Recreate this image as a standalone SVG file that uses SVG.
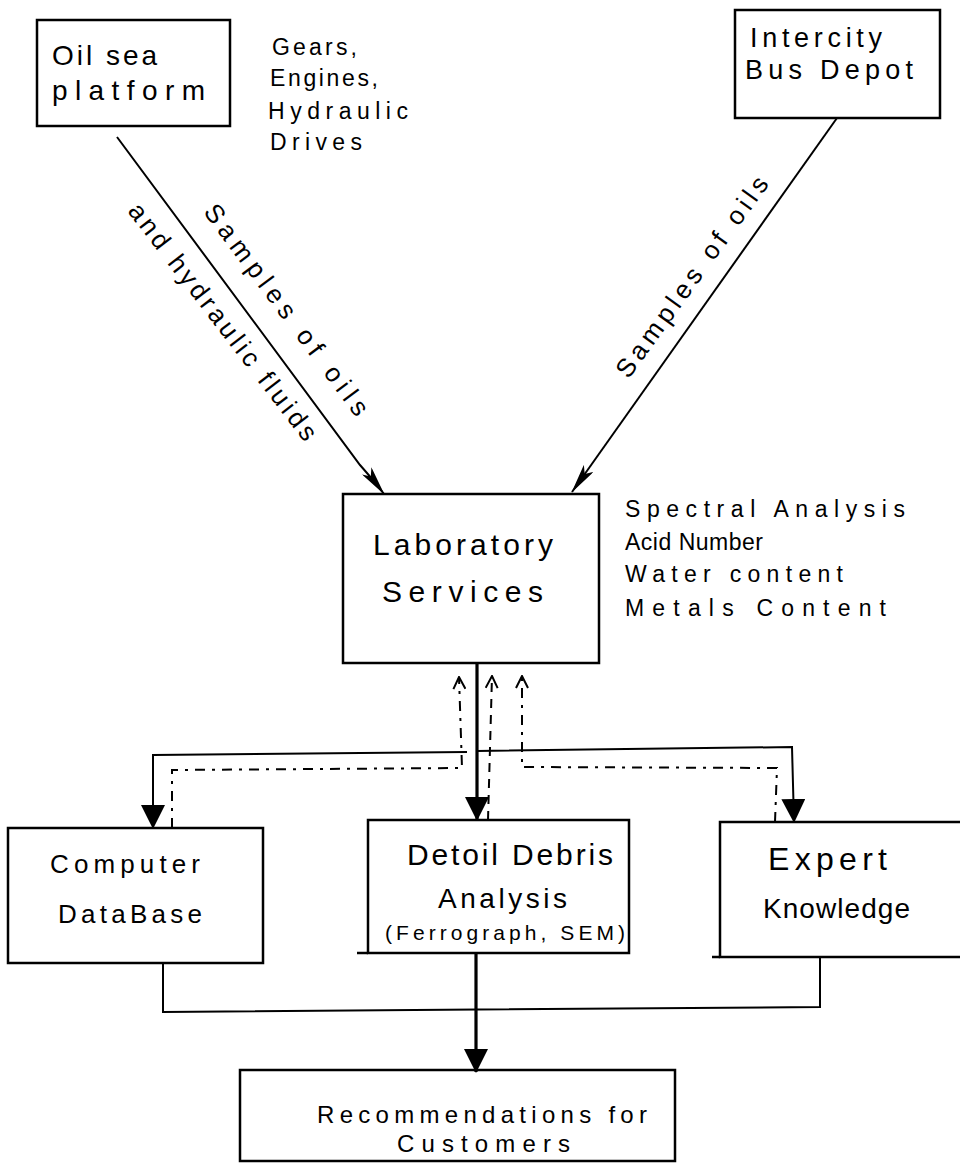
<svg xmlns="http://www.w3.org/2000/svg" width="960" height="1167" viewBox="0 0 960 1167">
<style>
.box{fill:none;stroke:#000;stroke-width:2.5}
.t{font-family:"Liberation Sans",Arial,sans-serif;fill:#000}
.ln{fill:none;stroke:#000;stroke-width:2}
.thick{fill:none;stroke:#000;stroke-width:3.2}
.dash{fill:none;stroke:#000;stroke-width:2;stroke-dasharray:9 7}
.dashdot{fill:none;stroke:#000;stroke-width:2;stroke-dasharray:10 7 3 7}
</style>
<defs>
<marker id="big" markerUnits="userSpaceOnUse" markerWidth="24" markerHeight="24" viewBox="0 0 24 24" refX="23" refY="12" orient="auto"><path d="M0,0 L24,12 L0,24 z" fill="#000"/></marker>
<marker id="narrow" markerUnits="userSpaceOnUse" markerWidth="30" markerHeight="12" viewBox="0 0 30 12" refX="29" refY="6" orient="auto"><path d="M0,0 L30,6 L0,12 L7,6 z" fill="#000"/></marker>
<marker id="open" markerUnits="userSpaceOnUse" markerWidth="14" markerHeight="14" viewBox="0 0 14 14" refX="13" refY="7" orient="auto"><path d="M1,1 L13,7 L1,13" fill="none" stroke="#000" stroke-width="2"/></marker>
</defs>

<g id="connectors">
  <path class="ln" d="M117,137 L360,465 Q375,482 384,494" marker-end="url(#narrow)"/>
  <path class="ln" d="M837,118 L572,492" marker-end="url(#narrow)"/>
  <path class="thick" d="M477,663 L477,820" marker-end="url(#big)"/>
  <path class="ln" d="M467,752 L153,755 L153,828" marker-end="url(#big)"/>
  <path class="ln" d="M477,751 L792,747 L794,822" marker-end="url(#big)"/>
  <path class="dashdot" d="M172,828 L172,770 L462,768 L459,677" marker-end="url(#open)"/>
  <path class="dash" d="M488,820 L492,676" marker-end="url(#open)"/>
  <path class="dashdot" d="M775,822 L777,768 L522,767 L522,676" marker-end="url(#open)"/>
  <path class="ln" d="M163,963 L163,1012 L820,1007 L820,957"/>
  <path class="thick" d="M476,953 L476,1072" marker-end="url(#big)"/>
  <text class="t" font-size="26" text-anchor="middle" textLength="257" lengthAdjust="spacing" transform="translate(279.5,315) rotate(53.3)">Samples of oils</text>
  <text class="t" font-size="26" text-anchor="middle" textLength="292" lengthAdjust="spacing" transform="translate(216,327) rotate(52.5)">and hydraulic fluids</text>
  <text class="t" font-size="26" text-anchor="middle" textLength="241" lengthAdjust="spacing" transform="translate(699,282) rotate(-54.2)">Samples of oils</text>
</g>

<g id="oil-platform">
  <rect class="box" x="37" y="20" width="193" height="106"/>
  <text class="t" font-size="28" x="52" y="65" textLength="105" lengthAdjust="spacing">Oil sea</text>
  <text class="t" font-size="28" x="52" y="100" textLength="153" lengthAdjust="spacing">platform</text>
</g>

<g id="platform-notes">
  <text class="t" font-size="23" x="272" y="55" textLength="85" lengthAdjust="spacing">Gears,</text>
  <text class="t" font-size="23" x="270" y="86" textLength="108" lengthAdjust="spacing">Engines,</text>
  <text class="t" font-size="23" x="268" y="119" textLength="140" lengthAdjust="spacing">Hydraulic</text>
  <text class="t" font-size="23" x="270" y="150" textLength="92" lengthAdjust="spacing">Drives</text>
</g>

<g id="bus-depot">
  <rect class="box" x="735" y="10" width="205" height="108"/>
  <text class="t" font-size="27" x="750" y="47" textLength="132" lengthAdjust="spacing">Intercity</text>
  <text class="t" font-size="27" x="745" y="79" textLength="168" lengthAdjust="spacing">Bus Depot</text>
</g>

<g id="laboratory">
  <rect class="box" x="343" y="494" width="256" height="169"/>
  <text class="t" font-size="30" x="373" y="555" textLength="180" lengthAdjust="spacing">Laboratory</text>
  <text class="t" font-size="30" x="382" y="602" textLength="161" lengthAdjust="spacing">Services</text>
</g>

<g id="lab-notes">
  <text class="t" font-size="23" x="625" y="517" textLength="280" lengthAdjust="spacing">Spectral Analysis</text>
  <text class="t" font-size="23" x="625" y="550" textLength="138" lengthAdjust="spacing">Acid Number</text>
  <text class="t" font-size="23" x="625" y="582" textLength="218" lengthAdjust="spacing">Water content</text>
  <text class="t" font-size="23" x="625" y="616" textLength="261" lengthAdjust="spacing">Metals Content</text>
</g>

<g id="computer-database">
  <rect class="box" x="8" y="828" width="255" height="135"/>
  <text class="t" font-size="26" x="50" y="873" textLength="150" lengthAdjust="spacing">Computer</text>
  <text class="t" font-size="26" x="58" y="923" textLength="144" lengthAdjust="spacing">DataBase</text>
</g>

<g id="debris-analysis">
  <rect class="box" x="368" y="820" width="261" height="133"/>
  <line class="box" x1="357" y1="953" x2="368" y2="953"/>
  <text class="t" font-size="30" x="407" y="865" textLength="206" lengthAdjust="spacing">Detoil Debris</text>
  <text class="t" font-size="28" x="438" y="908" textLength="129" lengthAdjust="spacing">Analysis</text>
  <text class="t" font-size="21" x="385" y="940" textLength="240" lengthAdjust="spacing">(Ferrograph, SEM)</text>
</g>

<g id="expert-knowledge">
  <rect class="box" x="720" y="822" width="245" height="135"/>
  <line class="box" x1="712" y1="957" x2="720" y2="957"/>
  <text class="t" font-size="32" x="768" y="870" textLength="119" lengthAdjust="spacing">Expert</text>
  <text class="t" font-size="28" x="763" y="918" textLength="147" lengthAdjust="spacing">Knowledge</text>
</g>

<g id="recommendations">
  <rect class="box" x="240" y="1070" width="435" height="91"/>
  <text class="t" font-size="24" x="317" y="1123" textLength="330" lengthAdjust="spacing">Recommendations for</text>
  <text class="t" font-size="24" x="397" y="1152" textLength="173" lengthAdjust="spacing">Customers</text>
</g>
</svg>
